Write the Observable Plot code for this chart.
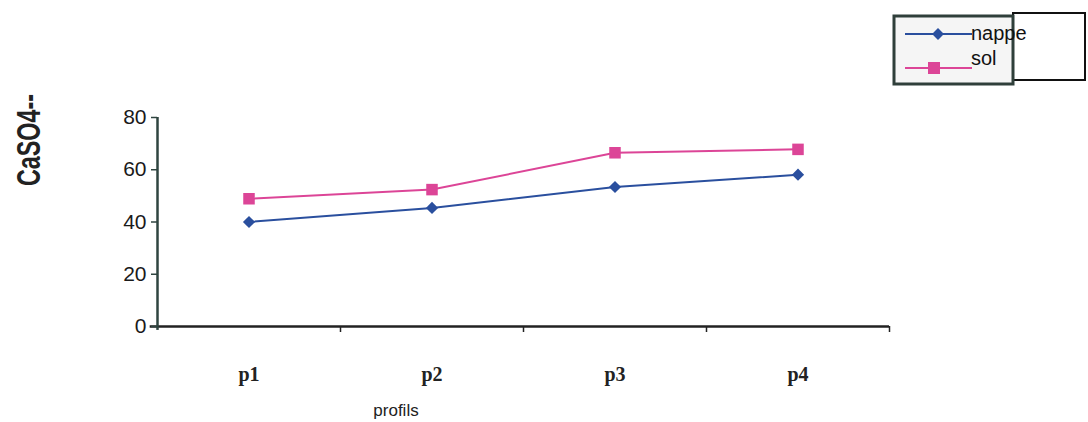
<!DOCTYPE html>
<html><head><meta charset="utf-8">
<script src="https://cdn.jsdelivr.net/npm/d3@7"></script>
<script src="https://cdn.jsdelivr.net/npm/@observablehq/plot@0.6"></script>
<style>
body{margin:0;background:#fff;}
#wrap{position:relative;width:1088px;height:422px;}
</style></head>
<body><div id="wrap"></div>
<script>
const categories = ["p1","p2","p3","p4"];
const nappe = [40, 45.4, 53.4, 58.1];
const sol = [48.9, 52.4, 66.5, 67.8];
const yTicks = [0,20,40,60,80];
const seriesNames = ["nappe","sol"];
const seriesColors = ["#2a4f9e","#dc4597"];

const rows = [];
categories.forEach((c,i)=>{
  rows.push({cat:c, idx:i+0.5, v:nappe[i], s:"nappe"});
  rows.push({cat:c, idx:i+0.5, v:sol[i], s:"sol"});
});
const boundaries = d3.range(1, categories.length+1);
const centers = categories.map((c,i)=>i+0.5);

const axisColor = "#2f4540";
const chart = Plot.plot({
  width:1088, height:422,
  marginLeft:157, marginRight:199, marginTop:117, marginBottom:96,
  style:{background:"transparent", overflow:"visible"},
  x:{type:"linear", domain:[0,categories.length], axis:null},
  y:{domain:[0,80], axis:null},
  marks:[
    Plot.ruleY([0], {x1:-0.04, x2:4, stroke:"#222", strokeWidth:2.5}),
    Plot.ruleX([0], {y1:-1.5, y2:80, stroke:axisColor, strokeWidth:2.5}),
    Plot.axisY({ticks:yTicks, tickSize:6, tickPadding:5, stroke:axisColor, strokeWidth:1.5,
      fontSize:21, fontFamily:"Liberation Sans", fill:"#1a1a1a", label:null}),
    Plot.axisX({ticks:boundaries, tickSize:6, tickFormat:()=>"" , stroke:"#222", strokeWidth:1.5, label:null}),
    Plot.axisX({ticks:centers, tickSize:0, tickPadding:40, tickFormat:(d)=>categories[Math.floor(d)],
      fontSize:20, fontWeight:"bold", fontFamily:"Liberation Serif", fill:"#222", label:null}),
    Plot.line(rows, {x:"idx", y:"v", z:"s", stroke:"s", strokeWidth:2}),
    Plot.dot(rows.filter(d=>d.s==="nappe"), {x:"idx", y:"v", symbol:"diamond2", fill:seriesColors[0], r:5.5}),
    Plot.dot(rows.filter(d=>d.s==="sol"), {x:"idx", y:"v", symbol:"square", fill:seriesColors[1], r:6.5})
  ],
  color:{domain:seriesNames, range:seriesColors}
});
const svg = d3.select(chart);
svg.append("text").attr("transform","translate(40,140) rotate(-90)")
  .attr("text-anchor","middle").attr("font-family","Liberation Sans").attr("font-weight","bold")
  .attr("font-size",34).attr("textLength",92).attr("lengthAdjust","spacingAndGlyphs")
  .attr("fill","#222").text("CaSO4--");
svg.append("text").attr("x",396).attr("y",416).attr("text-anchor","middle")
  .attr("font-family","Liberation Sans").attr("font-size",17).attr("fill","#222").text("profils");

// legend
const lg = svg.append("g");
lg.append("rect").attr("x",1013).attr("y",13).attr("width",72).attr("height",67).attr("fill","#fff").attr("stroke","#111").attr("stroke-width",2);
lg.append("rect").attr("x",894).attr("y",16).attr("width",119).attr("height",68).attr("fill","#f5f5f5").attr("stroke","#2f3f3a").attr("stroke-width",3);
const ly = [34,68];
seriesNames.forEach((n,i)=>{
  lg.append("line").attr("x1",905).attr("x2",972).attr("y1",ly[i]).attr("y2",ly[i]).attr("stroke",seriesColors[i]).attr("stroke-width",2);
  if(i===0) lg.append("path").attr("d",d3.symbol(d3.symbolDiamond2, 90)()).attr("transform",`translate(938,${ly[i]})`).attr("fill",seriesColors[i]);
  else lg.append("rect").attr("x",928).attr("y",ly[i]-6).attr("width",12).attr("height",12).attr("fill",seriesColors[i]);
  lg.append("text").attr("x",971).attr("y",[33,58][i]).attr("dy","0.35em").attr("text-anchor","start").attr("font-family","Liberation Sans").attr("font-size",20).attr("fill","#111").text(n);
});
document.getElementById("wrap").append(chart);
</script></body></html>
